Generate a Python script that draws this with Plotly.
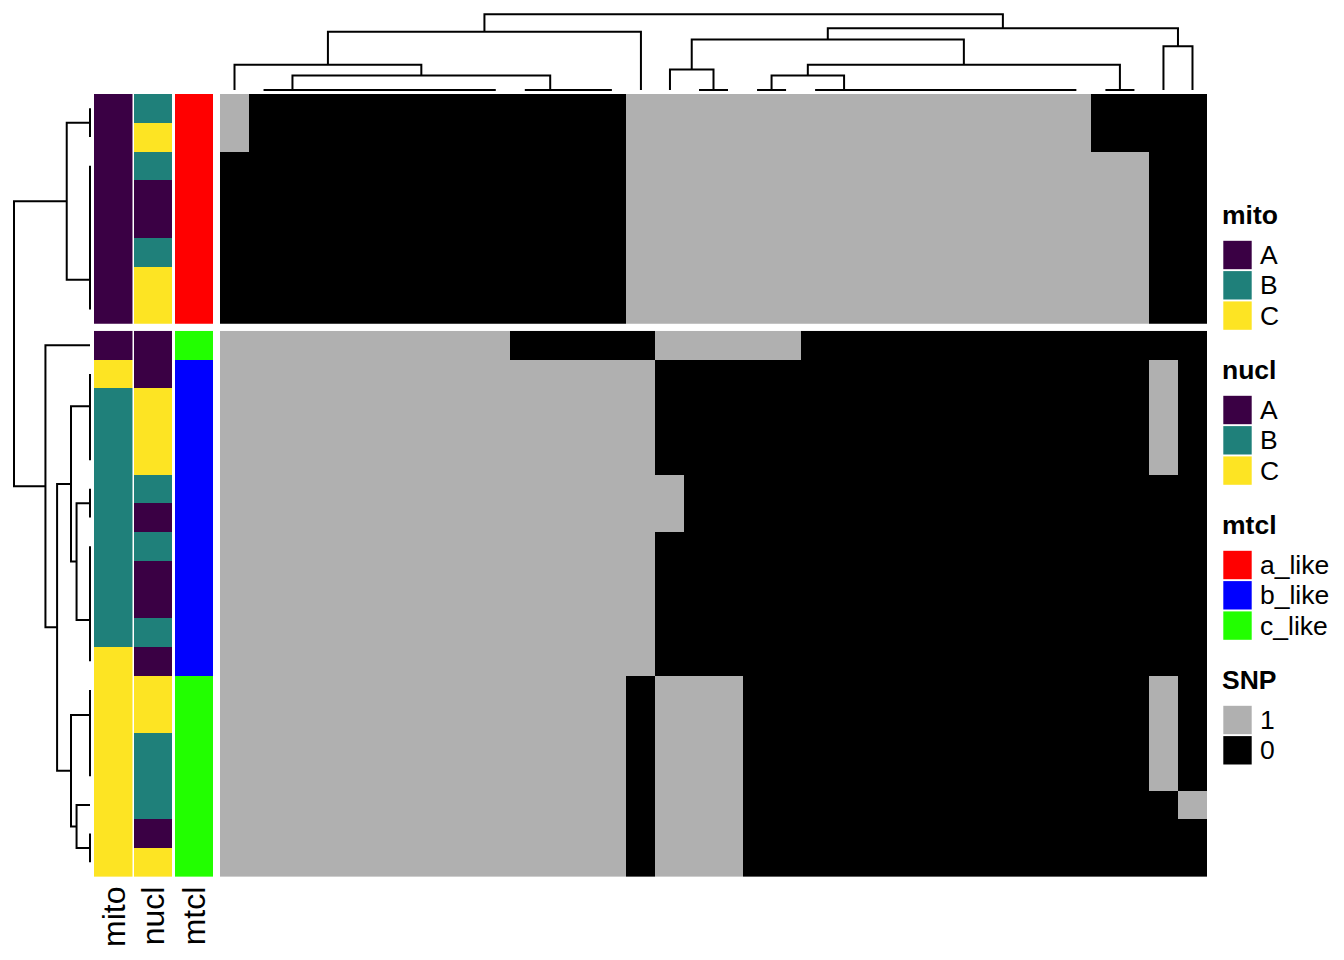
import numpy as np
import plotly.graph_objects as go

W, H = 1344, 960

# ---------------- data ----------------
# SNP matrix (1 = grey, 0 = black), rows in display order, 34 columns
snp_top = [
    "1 00000 00000 000 11111 11111 11111 1 0000",
    "1 00000 00000 000 11111 11111 11111 1 0000",
    "00000 00000 0000 11111 11111 11111 111 00",
    "00000 00000 0000 11111 11111 11111 111 00",
    "00000 00000 0000 11111 11111 11111 111 00",
    "00000 00000 0000 11111 11111 11111 111 00",
    "00000 00000 0000 11111 11111 11111 111 00",
    "00000 00000 0000 11111 11111 11111 111 00",
]
snp_bottom = [
    "11111 11111 00000 11111 00000 00000 0000",
    "11111 11111 11111 00000 00000 00000 00 1 0",
    "11111 11111 11111 00000 00000 00000 00 1 0",
    "11111 11111 11111 00000 00000 00000 00 1 0",
    "11111 11111 11111 00000 00000 00000 00 1 0",
    "11111 11111 11111 1 00000 00000 00000 000",
    "11111 11111 11111 1 00000 00000 00000 000",
    "11111 11111 11111 00000 00000 00000 0000",
    "11111 11111 11111 00000 00000 00000 0000",
    "11111 11111 11111 00000 00000 00000 0000",
    "11111 11111 11111 00000 00000 00000 0000",
    "11111 11111 11111 00000 00000 00000 0000",
    "11111 11111 1111 0 111 00000 00000 0000 1 0",
    "11111 11111 1111 0 111 00000 00000 0000 1 0",
    "11111 11111 1111 0 111 00000 00000 0000 1 0",
    "11111 11111 1111 0 111 00000 00000 0000 1 0",
    "11111 11111 1111 0 111 00000 00000 00000 1",
    "11111 11111 1111 0 111 00000 00000 00000 0",
    "11111 11111 1111 0 111 00000 00000 00000 0",
]

mito_top = ["A", "A", "A", "A", "A", "A", "A", "A"]
nucl_top = ["B", "C", "B", "A", "A", "B", "C", "C"]
mtcl_top = ["a_like", "a_like", "a_like", "a_like", "a_like", "a_like", "a_like", "a_like"]

mito_bottom = ["A", "C", "B", "B", "B", "B", "B", "B", "B", "B", "B",
               "C", "C", "C", "C", "C", "C", "C", "C"]
nucl_bottom = ["A", "A", "C", "C", "C", "B", "A", "B", "A", "A", "B",
               "A", "C", "C", "B", "B", "B", "A", "C"]
mtcl_bottom = ["c_like", "b_like", "b_like", "b_like", "b_like", "b_like", "b_like",
               "b_like", "b_like", "b_like", "b_like", "b_like",
               "c_like", "c_like", "c_like", "c_like", "c_like", "c_like", "c_like"]

geno_levels = ["A", "B", "C"]
mtcl_levels = ["a_like", "b_like", "c_like"]
snp_levels = ["1", "0"]

# dendrogram topologies (leaf indices in display order)
c_1_9 = (1, (2, (3, (4, (5, (6, (7, (8, 9))))))))
c_10_13 = (10, (11, (12, 13)))
c_20_29 = (20, (21, (22, (23, (24, (25, (26, (27, (28, 29)))))))))
col_left = ((0, (c_1_9, c_10_13)), 14)
col_right = (((15, (16, 17)), (((18, 19), c_20_29), (30, 31))), (32, 33))
col_tree = (col_left, col_right)

top_g = ((((2, (3, 4)), 5), 6), 7)
row_top = ((0, 1), top_g)
g_b1 = (9, ((10, 11), 12))
g_b2 = ((13, 14), ((15, ((16, 17), 18)), 19))
g_y = ((20, (21, (22, 23))), (24, (25, 26)))
row_bottom = (8, ((g_b1, g_b2), g_y))
row_tree = (row_top, row_bottom)

# ---------------- styles ----------------
PURPLE, TEAL, YELLOW = "#3A0044", "#1F807A", "#FDE423"
RED, BLUE, GREEN = "#FF0000", "#0000FF", "#22FF00"
GREY, BLACK = "#B0B0B0", "#000000"
geno_colors = [PURPLE, TEAL, YELLOW]
mtcl_colors = [RED, BLUE, GREEN]
FONT = "Liberation Sans, Arial, Helvetica, sans-serif"

# layout constants (pixels)
HM_L, HM_R = 220, 1207
TOP_Y0 = 94
ROW_PX = 28.73
GAP_PX = 7
DEND_FAR, DEND_NEAR = 14.3, 90
ANN_COLS = [(94, 132.5), (134, 172.3), (175, 213.3)]
LINE_W = 2.0


def parse(rows):
    return np.array([[int(c) for c in r.replace(" ", "")] for r in rows], dtype=float)


Z_top = parse(snp_top)
Z_bot = parse(snp_bottom)
assert Z_top.shape == (8, 34) and Z_bot.shape == (19, 34)
Z_all = np.vstack([Z_top, Z_bot])
n_top, n_bot = Z_top.shape[0], Z_bot.shape[0]
n_col = Z_top.shape[1]

top_y1 = TOP_Y0 + n_top * ROW_PX
bot_y0 = top_y1 + GAP_PX
bot_y1 = bot_y0 + n_bot * ROW_PX


def px_x(p):
    return p / W


def px_y(p):
    return 1 - p / H


def leaves_of(node):
    return [node] if isinstance(node, int) else leaves_of(node[0]) + leaves_of(node[1])


def dendro(tree, pos, vecs):
    P, Hs = [], []

    def rec(node):
        if isinstance(node, int):
            return pos[node], 0.0
        pl, hl = rec(node[0])
        pr, hr = rec(node[1])
        A = vecs[leaves_of(node[0])]
        B = vecs[leaves_of(node[1])]
        h = float(np.sqrt(((A[:, None, :] - B[None, :, :]) ** 2).sum(-1)).max())
        P.extend([pl, pl, pr, pr, None])
        Hs.extend([hl, h, h, hr, None])
        return (pl + pr) / 2, h

    _, hroot = rec(tree)
    return P, Hs, hroot


fig = go.Figure()

snp_scale = [[0, BLACK], [0.5, BLACK], [0.5, GREY], [1, GREY]]


def cat_scale(cols):
    n = len(cols)
    sc = []
    for i, c in enumerate(cols):
        sc += [[i / n, c], [(i + 1) / n, c]]
    return sc


# main heatmap slices
fig.add_trace(go.Heatmap(z=Z_top, x=list(range(n_col)), y=list(range(n_top)),
                         colorscale=snp_scale, zmin=0, zmax=1, showscale=False,
                         hoverinfo="skip", xaxis="x", yaxis="y"))
fig.add_trace(go.Heatmap(z=Z_bot, x=list(range(n_col)), y=list(range(n_bot)),
                         colorscale=snp_scale, zmin=0, zmax=1, showscale=False,
                         hoverinfo="skip", xaxis="x", yaxis="y2"))

# row annotations
ann_specs = [
    ("mito", mito_top, mito_bottom, geno_levels, geno_colors, "x2"),
    ("nucl", nucl_top, nucl_bottom, geno_levels, geno_colors, "x3"),
    ("mtcl", mtcl_top, mtcl_bottom, mtcl_levels, mtcl_colors, "x4"),
]
for name, vt, vb, levels, cols, xa in ann_specs:
    for vals, ya in ((vt, "y"), (vb, "y2")):
        z = [[levels.index(v)] for v in vals]
        fig.add_trace(go.Heatmap(z=z, x=[0], y=list(range(len(vals))),
                                 colorscale=cat_scale(cols), zmin=0, zmax=len(levels) - 1,
                                 showscale=False, hoverinfo="skip", xaxis=xa, yaxis=ya))

# column dendrogram
cP, cH, c_root = dendro(col_tree, {i: i for i in range(n_col)}, Z_all.T)
fig.add_trace(go.Scatter(x=cP, y=cH, mode="lines", line=dict(color="black", width=LINE_W),
                         hoverinfo="skip", xaxis="x", yaxis="y3", showlegend=False))

# row dendrogram
gap_rows = GAP_PX / ROW_PX
row_pos = {}
for i in range(n_top):
    row_pos[i] = i + 0.5
for j in range(n_bot):
    row_pos[n_top + j] = n_top + gap_rows + j + 0.5
rP, rH, r_root = dendro(row_tree, row_pos, Z_all)
fig.add_trace(go.Scatter(x=rH, y=rP, mode="lines", line=dict(color="black", width=LINE_W),
                         hoverinfo="skip", xaxis="x5", yaxis="y4", showlegend=False))

# legend
legend_groups = [
    ("mito", geno_levels, geno_colors),
    ("nucl", geno_levels, geno_colors),
    ("mtcl", mtcl_levels, mtcl_colors),
    ("SNP", snp_levels, [GREY, BLACK]),
]
LEG_FIRST, LEG_STEP, LEG_PITCH = 255, 155, 30.3
LEG_KEY, LEG_KEY_X, LEG_LABEL_X, LEG_TITLE_X, LEG_TITLE_OFF = 28.4, 1237.5, 1257.5, 1219.5, 40
annotations = []
kx, ky, kc = [], [], []
for g, (title, labels, cols) in enumerate(legend_groups):
    y0 = LEG_FIRST + g * LEG_STEP
    annotations.append(dict(text="<b>%s</b>" % title, x=LEG_TITLE_X, y=y0 - LEG_TITLE_OFF,
                            xref="x6", yref="y6", xanchor="left", yanchor="middle",
                            showarrow=False, font=dict(family=FONT, size=26.5, color="black")))
    for k, (lab, c) in enumerate(zip(labels, cols)):
        yy = y0 + k * LEG_PITCH
        kx.append(LEG_KEY_X)
        ky.append(yy)
        kc.append(c)
        annotations.append(dict(text=lab, x=LEG_LABEL_X, y=yy, xref="x6", yref="y6",
                                xanchor="left", yanchor="middle", showarrow=False,
                                font=dict(family=FONT, size=26.5, color="black")))
fig.add_trace(go.Scatter(x=kx, y=ky, mode="markers",
                         marker=dict(symbol="square", size=LEG_KEY, color=kc, line=dict(width=0)),
                         hoverinfo="skip", xaxis="x6", yaxis="y6", showlegend=False))

# annotation names below the columns
for name, _, _, _, _, xa in ann_specs:
    annotations.append(dict(text=name, x=0, y=px_y(bot_y1 + 8), xref=xa, yref="paper",
                            xanchor="center", yanchor="top", textangle=-90, showarrow=False,
                            font=dict(family=FONT, size=32, color="black")))

hidden = dict(visible=False, showgrid=False, zeroline=False, fixedrange=True)


def h_at(px, hmax, far):
    return (DEND_NEAR - px) / (DEND_NEAR - far) * hmax


layout = dict(
    width=W, height=H, margin=dict(l=0, r=0, t=0, b=0),
    paper_bgcolor="white", plot_bgcolor="white", showlegend=False,
    xaxis=dict(domain=[px_x(HM_L), px_x(HM_R)], range=[-0.5, n_col - 0.5], **hidden),
    yaxis=dict(domain=[px_y(top_y1), px_y(TOP_Y0)], range=[n_top - 0.5, -0.5], **hidden),
    yaxis2=dict(domain=[px_y(bot_y1), px_y(bot_y0)], range=[n_bot - 0.5, -0.5], **hidden),
    yaxis3=dict(domain=[px_y(93), px_y(8)],
                range=[h_at(93, c_root, DEND_FAR), h_at(8, c_root, DEND_FAR)], **hidden),
    yaxis4=dict(domain=[px_y(bot_y1), px_y(TOP_Y0)],
                range=[n_top + gap_rows + n_bot, 0], **hidden),
    xaxis5=dict(domain=[px_x(8), px_x(93)],
                range=[h_at(8, r_root, 14), h_at(93, r_root, 14)], **hidden),
    xaxis6=dict(domain=[px_x(1210), 1], range=[1210, W], **hidden),
    yaxis6=dict(domain=[0, 1], range=[H, 0], **hidden),
    annotations=annotations,
)
for i, (a, b) in enumerate(ANN_COLS):
    layout["xaxis%d" % (i + 2)] = dict(domain=[px_x(a), px_x(b)], range=[-0.5, 0.5], **hidden)

fig.update_layout(**layout)
fig.write_html("out.html", config={"displayModeBar": False})
